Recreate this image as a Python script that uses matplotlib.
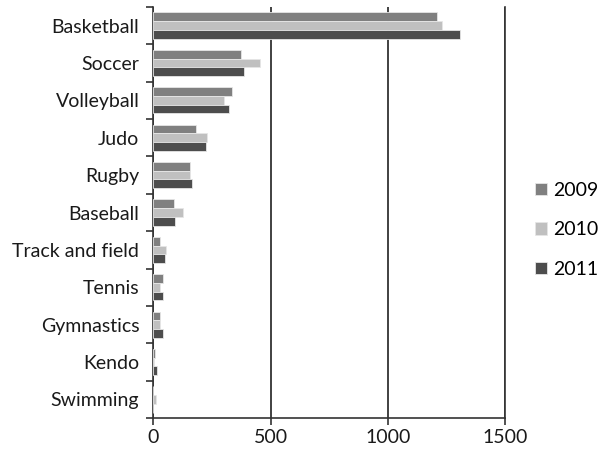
import numpy as np
import matplotlib
matplotlib.use("Agg")
import matplotlib.pyplot as plt

plt.rcParams['font.family'] = ['Lato', 'DejaVu Sans']

sports = ['Basketball', 'Soccer', 'Volleyball', 'Judo', 'Rugby', 'Baseball',
          'Track and field', 'Tennis', 'Gymnastics', 'Kendo', 'Swimming']
v2009 = [1210, 374, 335, 181, 156, 89, 29, 42, 29, 9, 0]
v2010 = [1230, 454, 301, 228, 156, 127, 56, 29, 29, 5, 10]
v2011 = [1309, 387, 321, 223, 167, 94, 49, 42, 43, 16, 0]
years = ['2009', '2010', '2011']
colors = ['#808080', '#c0c0c0', '#4d4d4d']

fig = plt.figure(figsize=(6.08, 4.58), dpi=100)
ax = fig.add_axes([0.252, 0.087, 0.579, 0.898])

y = np.arange(len(sports))
h = 0.233
for i, (vals, lab, col) in enumerate(zip([v2009, v2010, v2011], years, colors)):
    ax.barh(y + (i - 1) * h, vals, height=h, color=col, label=lab,
            edgecolor='#e6e6e6', linewidth=0.6, zorder=3)

ax.set_ylim(len(sports) - 0.5, -0.5)
ax.set_xlim(0, 1500)
ax.set_xticks([0, 500, 1000, 1500])
ax.set_yticks(y)
ax.set_yticklabels(sports)
# ticks between categories on the vertical axis
ax.set_yticks(np.arange(-0.5, len(sports)), minor=True)
ax.tick_params(axis='y', which='major', length=0, pad=10, labelsize=14, labelcolor='#1a1a1a')
ax.tick_params(axis='y', which='minor', length=5, width=1.2, color='#333333')
ax.tick_params(axis='x', length=5, width=1.2, color='#333333', labelsize=14,
               labelcolor='#1a1a1a', pad=3)

ax.grid(axis='x', color='#333333', linewidth=1.3, zorder=1)
ax.spines['top'].set_visible(False)
for s in ['right', 'left', 'bottom']:
    ax.spines[s].set_color('#333333')
    ax.spines[s].set_linewidth(1.2)

# legend sits in the right margin, centred on the figure height
fig.legend(*ax.get_legend_handles_labels(), loc='center left',
           bbox_to_anchor=(0.88, 0.498), bbox_transform=fig.transFigure,
           frameon=False, fontsize=14, handlelength=0.6, handleheight=0.6,
           handletextpad=0.35, labelspacing=1.15, borderaxespad=0, borderpad=0)

fig.savefig('out.png', dpi=100)
